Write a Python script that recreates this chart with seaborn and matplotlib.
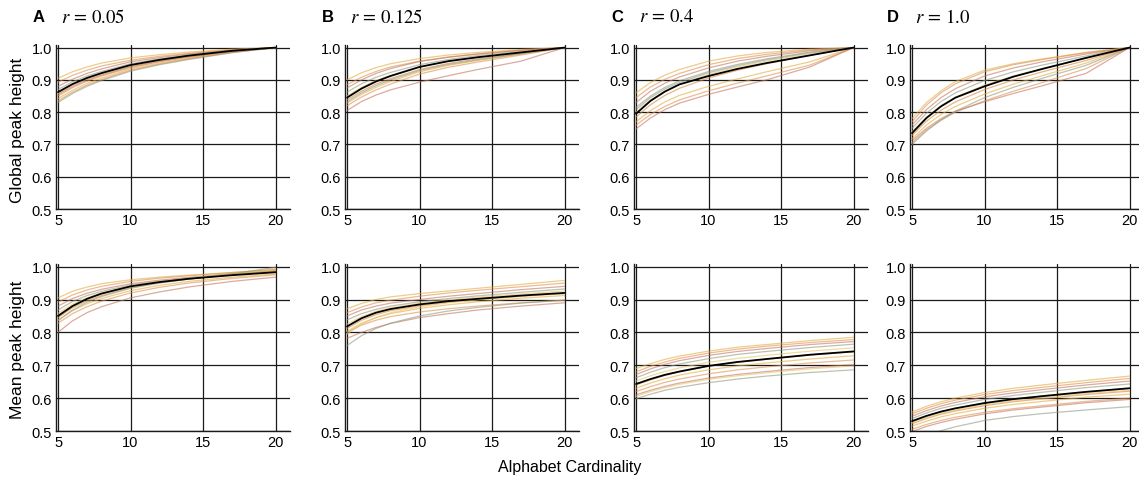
import numpy as np
import pandas as pd
import matplotlib
matplotlib.use("Agg")
import matplotlib.pyplot as plt
import seaborn as sns

# ---------------- data ----------------
X = [5, 6, 7, 8, 10, 12, 14, 17, 20]

panel_letters = ["A", "B", "C", "D"]
r_values = ["0.05", "0.125", "0.4", "1.0"]
row_labels = ["Global peak height", "Mean peak height"]
x_ticks = [5, 10, 15, 20]
y_ticks = [0.5, 0.6, 0.7, 0.8, 0.9, 1.0]

# Global peak height, mean curves
global_A_mean = [.862, .887, .906, .921, .946, .962, .975, .990, 1.0]
global_B_mean = [.845, .873, .895, .912, .940, .958, .970, .985, 1.0]
global_C_mean = [.795, .835, .864, .886, .912, .934, .952, .976, 1.0]
global_D_mean = [.735, .782, .818, .845, .880, .910, .934, .968, 1.0]

global_A_runs = [
    [.905, .925, .940, .952, .968, .978, .986, .995, 1.0],
    [.893, .914, .930, .943, .961, .973, .982, .993, 1.0],
    [.880, .902, .920, .934, .956, .969, .980, .992, 1.0],
    [.870, .894, .912, .926, .950, .965, .977, .991, 1.0],
    [.858, .884, .903, .918, .943, .960, .973, .989, 1.0],
    [.850, .876, .896, .912, .938, .956, .970, .987, 1.0],
    [.842, .868, .889, .906, .934, .952, .967, .986, 1.0],
    [.835, .862, .884, .901, .930, .949, .965, .985, 1.0],
    [.855, .880, .900, .915, .941, .958, .972, .988, 1.0],
    [.830, .858, .880, .898, .927, .947, .963, .984, 1.0],
]
global_B_runs = [
    [.900, .922, .938, .950, .966, .977, .985, .994, 1.0],
    [.885, .908, .926, .940, .958, .971, .980, .991, 1.0],
    [.875, .900, .920, .935, .957, .970, .980, .992, 1.0],
    [.862, .888, .908, .923, .947, .963, .975, .988, 1.0],
    [.850, .877, .898, .914, .941, .958, .971, .986, 1.0],
    [.838, .865, .887, .904, .932, .951, .965, .982, 1.0],
    [.828, .855, .877, .895, .925, .945, .960, .980, 1.0],
    [.820, .847, .869, .887, .918, .939, .955, .977, 1.0],
    [.805, .833, .853, .869, .893, .913, .932, .958, 1.0],
    [.832, .860, .882, .900, .929, .948, .962, .981, 1.0],
]
global_C_runs = [
    [.860, .892, .915, .932, .958, .974, .985, .995, 1.0],
    [.845, .878, .902, .920, .947, .966, .979, .993, 1.0],
    [.830, .865, .890, .909, .937, .958, .973, .990, 1.0],
    [.815, .850, .877, .897, .926, .948, .965, .986, 1.0],
    [.800, .838, .865, .886, .917, .940, .958, .981, 1.0],
    [.785, .823, .852, .874, .906, .930, .950, .976, 1.0],
    [.770, .805, .832, .852, .880, .903, .925, .956, 1.0],
    [.760, .793, .818, .838, .866, .890, .912, .946, 1.0],
    [.748, .782, .808, .828, .855, .878, .900, .940, 1.0],
    [.808, .845, .872, .892, .922, .944, .962, .984, 1.0],
]
global_D_runs = [
    [.780, .830, .866, .895, .930, .950, .965, .985, 1.0],
    [.770, .822, .860, .888, .925, .947, .963, .984, 1.0],
    [.760, .808, .845, .873, .912, .937, .956, .980, 1.0],
    [.750, .797, .833, .860, .898, .925, .946, .974, 1.0],
    [.740, .785, .820, .847, .884, .912, .935, .967, 1.0],
    [.728, .772, .806, .832, .870, .900, .925, .960, 1.0],
    [.718, .760, .793, .818, .856, .887, .913, .952, 1.0],
    [.705, .745, .775, .800, .835, .865, .892, .935, 1.0],
    [.712, .750, .780, .803, .832, .858, .882, .920, 1.0],
    [.700, .742, .776, .803, .845, .877, .905, .945, 1.0],
]

# Mean peak height
mean_A_mean = [.850, .880, .902, .918, .940, .953, .963, .974, .983]
mean_B_mean = [.818, .843, .860, .871, .885, .895, .902, .912, .920]
mean_C_mean = [.643, .658, .671, .681, .698, .710, .719, .732, .742]
mean_D_mean = [.530, .546, .559, .569, .585, .597, .606, .619, .630]

mean_A_runs = [
    [.905, .925, .938, .948, .960, .968, .974, .982, .990],
    [.892, .914, .929, .940, .955, .965, .972, .982, .992],
    [.880, .903, .919, .931, .948, .959, .967, .977, .985],
    [.868, .894, .912, .925, .944, .956, .966, .978, .988],
    [.858, .886, .905, .920, .941, .955, .965, .978, .990],
    [.845, .875, .896, .912, .936, .951, .962, .976, .986],
    [.838, .866, .887, .903, .927, .943, .955, .968, .978],
    [.828, .857, .878, .895, .920, .937, .950, .964, .975],
    [.800, .835, .860, .878, .905, .923, .938, .955, .968],
    [.835, .868, .892, .909, .934, .950, .962, .978, .998],
    [.852, .882, .903, .918, .940, .954, .964, .975, .984],
]
mean_B_runs = [
    [.872, .888, .900, .908, .918, .926, .934, .946, .958],
    [.860, .877, .890, .898, .910, .920, .928, .939, .950],
    [.850, .868, .880, .889, .900, .910, .918, .930, .940],
    [.838, .857, .870, .880, .893, .903, .911, .922, .932],
    [.825, .848, .864, .875, .889, .899, .907, .917, .926],
    [.812, .837, .854, .866, .881, .892, .900, .910, .918],
    [.803, .828, .845, .857, .873, .884, .893, .904, .912],
    [.800, .822, .837, .848, .862, .872, .880, .890, .898],
    [.782, .800, .815, .827, .845, .857, .868, .880, .890],
    [.760, .790, .812, .828, .850, .865, .876, .889, .898],
    [.795, .825, .845, .860, .878, .890, .899, .910, .918],
]
mean_C_runs = [
    [.690, .705, .718, .728, .743, .755, .763, .775, .785],
    [.680, .697, .710, .721, .737, .749, .758, .769, .778],
    [.672, .689, .703, .714, .730, .742, .751, .763, .772],
    [.662, .679, .693, .704, .720, .733, .742, .754, .764],
    [.652, .668, .681, .692, .709, .721, .730, .743, .753],
    [.640, .656, .669, .680, .697, .709, .718, .731, .741],
    [.630, .646, .659, .670, .686, .698, .707, .719, .729],
    [.620, .635, .648, .658, .674, .686, .695, .707, .716],
    [.610, .624, .636, .646, .661, .672, .681, .693, .702],
    [.598, .612, .624, .633, .647, .658, .667, .678, .686],
    [.605, .620, .632, .642, .657, .668, .677, .689, .698],
]
mean_D_runs = [
    [.558, .575, .589, .600, .617, .630, .640, .654, .667],
    [.552, .569, .583, .594, .611, .623, .633, .647, .660],
    [.545, .562, .576, .587, .604, .616, .626, .640, .652],
    [.538, .555, .569, .579, .596, .608, .618, .632, .643],
    [.530, .546, .559, .570, .586, .598, .607, .620, .630],
    [.522, .538, .551, .561, .577, .589, .598, .611, .621],
    [.515, .530, .543, .553, .569, .581, .590, .603, .612],
    [.505, .520, .532, .542, .557, .568, .577, .590, .600],
    [.498, .514, .526, .536, .552, .564, .573, .586, .596],
    [.470, .487, .501, .513, .532, .544, .553, .564, .574],
    [.525, .541, .554, .564, .580, .592, .601, .614, .624],
]

runs = [[global_A_runs, global_B_runs, global_C_runs, global_D_runs],
        [mean_A_runs, mean_B_runs, mean_C_runs, mean_D_runs]]
means = [[global_A_mean, global_B_mean, global_C_mean, global_D_mean],
         [mean_A_mean, mean_B_mean, mean_C_mean, mean_D_mean]]

run_colors = ["#E2AC3A", "#DE8E4E", "#C4745C", "#8E9A80", "#EBC262", "#D4853F"]

# ---------------- figure ----------------
sns.set_theme(style="white")
plt.rcParams["font.family"] = ["Liberation Sans", "DejaVu Sans"]
plt.rcParams["mathtext.fontset"] = "stix"
plt.rcParams["text.color"] = "black"

W, H = 1139, 485
fig = plt.figure(figsize=(W / 100, H / 100), dpi=100)

lefts_px = [56, 345, 634, 910]
ax_w_px = 234
rows_px = [(46, 210), (265, 432)]  # top, bottom pixel rows

for ri in range(2):
    top_px, bot_px = rows_px[ri]
    for ci in range(4):
        l = lefts_px[ci] / W
        b = 1 - bot_px / H
        h = (bot_px - top_px) / H
        ax = fig.add_axes([l, b, ax_w_px / W, h])
        ax.set_xlim(4.86, 21.0)
        ax.set_ylim(0.5, 1.008)
        for x in x_ticks:
            ax.axvline(x, color="#1a1a1a", lw=0.9, zorder=0)
        for y in y_ticks:
            ax.axhline(y, color="#1a1a1a", lw=0.9, zorder=0)
        recs = []
        for k, run in enumerate(runs[ri][ci]):
            for xv, yv in zip(X, run):
                recs.append({"run": k, "x": xv, "y": yv})
        df = pd.DataFrame(recs)
        nrun = len(runs[ri][ci])
        pal = [run_colors[k % len(run_colors)] for k in range(nrun)]
        sns.lineplot(data=df, x="x", y="y", hue="run", palette=pal,
                     lw=0.9, alpha=0.6, legend=False, ax=ax, zorder=2)
        dfm = pd.DataFrame({"x": X, "y": means[ri][ci]})
        sns.lineplot(data=dfm, x="x", y="y", color="black", lw=1.3,
                     ax=ax, zorder=3)
        ax.set_xticks(x_ticks)
        ax.set_yticks(y_ticks)
        ax.set_xticklabels([str(v) for v in x_ticks])
        ax.set_yticklabels([f"{v:.1f}" for v in y_ticks])
        ax.tick_params(length=0, labelsize=10.5, colors="black", pad=3)
        ax.set_xlabel("")
        ax.set_ylabel("")
        for s in ["top", "right"]:
            ax.spines[s].set_visible(False)
        for s in ["left", "bottom"]:
            ax.spines[s].set_color("#1a1a1a")
            ax.spines[s].set_linewidth(1.0)
        ax.grid(False)
        if ri == 0:
            fig.text((lefts_px[ci] - 23) / W, 1 - 18 / H, panel_letters[ci],
                     fontsize=12, fontweight="bold", va="center", ha="left",
                     color="black")
            fig.text((lefts_px[ci] + 5) / W, 1 - 18 / H,
                     r"$r\, =\, " + r_values[ci] + "$",
                     fontsize=13.5, va="center", ha="left", color="black")

fig.text(18 / W, 1 - 130 / H, row_labels[0], rotation=90, fontsize=12.5,
         va="center", ha="center", color="black")
fig.text(18 / W, 1 - 350 / H, row_labels[1], rotation=90, fontsize=12.5,
         va="center", ha="center", color="black")
fig.text(570 / W, 1 - 468 / H, "Alphabet Cardinality", fontsize=11.5,
         va="center", ha="center", color="black")

fig.savefig("out.png", dpi=100)
